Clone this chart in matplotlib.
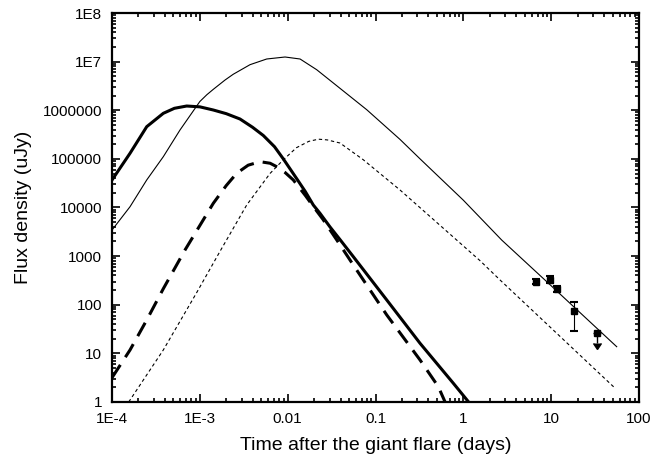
import numpy as np
import matplotlib
matplotlib.use("Agg")
import matplotlib.pyplot as plt
from matplotlib.ticker import LogLocator, NullFormatter

plt.rcParams['font.family'] = ['Liberation Sans', 'DejaVu Sans']

# ---- data (log10 days, log10 uJy) ----
thick_solid_logt = [-4.0, -3.795, -3.605, -3.416, -3.29, -3.15, -3.0, -2.847, -2.7, -2.543,
                    -2.4, -2.277, -2.15, -2.05, -1.9, -1.8, -1.708, -1.632, -1.518, -1.4,
                    -1.253, -0.872, -0.493, -0.114, 0.06]
thick_solid_logf = [4.566, 5.115, 5.662, 5.937, 6.04, 6.087, 6.07, 6.005, 5.93, 5.82,
                    5.65, 5.48, 5.25, 5.0, 4.6, 4.33, 4.05, 3.88, 3.6, 3.33,
                    2.989, 2.098, 1.207, 0.385, 0.0]

thick_dash_logt = [-4.0, -3.795, -3.605, -3.416, -3.169, -2.847, -2.7, -2.581, -2.45, -2.315,
                   -2.2, -2.125, -2.03, -1.936, -1.8, -1.708, -1.6, -1.441, -1.253, -0.872,
                   -0.493, -0.285, -0.208]
thick_dash_logf = [0.5, 1.07, 1.686, 2.33, 3.126, 4.086, 4.45, 4.703, 4.87, 4.942,
                   4.91, 4.839, 4.72, 4.566, 4.25, 4.02, 3.76, 3.332, 2.818, 1.79,
                   0.864, 0.315, 0.0]

thin_solid_logt = [-4.0, -3.795, -3.605, -3.416, -3.226, -3.0, -2.92, -2.847, -2.713, -2.62,
                   -2.429, -2.239, -2.03, -1.859, -1.67, -1.48, -1.10, -0.721, -0.493, 0.0,
                   0.437, 1.0, 1.746]
thin_solid_logf = [3.537, 4.016, 4.566, 5.045, 5.594, 6.18, 6.32, 6.43, 6.622, 6.74,
                   6.937, 7.054, 7.095, 7.054, 6.834, 6.56, 6.011, 5.40, 5.0, 4.15,
                   3.33, 2.39, 1.137]

thin_dot_logt = [-3.81, -3.416, -3.036, -2.77, -2.467, -2.201, -2.05, -1.9, -1.76, -1.65,
                 -1.55, -1.404, -1.14, -0.721, 0.19, 0.418, 1.0, 1.6, 1.73]
thin_dot_logf = [0.0, 1.07, 2.25, 3.1, 4.05, 4.7, 4.98, 5.23, 5.36, 5.405,
                 5.39, 5.326, 4.983, 4.36, 2.906, 2.509, 1.52, 0.50, 0.28]

# observed points (days, uJy)
obs_t = [6.7, 9.8, 11.8, 18.1]
obs_f = [295, 330, 214, 75]
obs_lo = [34, 55, 29, 46]
obs_hi = [36, 60, 33, 41]
lim_t = [33.6]
lim_f = [26.6]
lim_len = [10.6]

xtick_vals = [1e-4, 1e-3, 1e-2, 1e-1, 1, 10, 100]
xtick_labels = ["1E-4", "1E-3", "0.01", "0.1", "1", "10", "100"]
ytick_vals = [1, 10, 100, 1e3, 1e4, 1e5, 1e6, 1e7, 1e8]
ytick_labels = ["1", "10", "100", "1000", "10000", "100000", "1000000", "1E7", "1E8"]

fig = plt.figure(figsize=(6.68, 4.61), dpi=100)
ax = fig.add_axes([0.1677, 0.128, 0.7889, 0.8438])


def p(v):
    return 10 ** np.asarray(v, dtype=float)


ax.plot(p(thick_solid_logt), p(thick_solid_logf), color='black', lw=2.2,
        solid_joinstyle='round')
ax.plot(p(thick_dash_logt), p(thick_dash_logf), color='black', lw=2.2, dashes=(5, 3))
ax.plot(p(thin_solid_logt), p(thin_solid_logf), color='black', lw=0.8,
        solid_joinstyle='round')
ax.plot(p(thin_dot_logt), p(thin_dot_logf), color='black', lw=0.8, dashes=(3, 2.5))

ax.errorbar(obs_t, obs_f, yerr=[obs_lo, obs_hi], fmt='s', color='black', ms=4.5,
            capsize=3, elinewidth=0.8, capthick=1.5)
ax.errorbar(lim_t, lim_f, yerr=[lim_len, [0]], uplims=True, fmt='s', color='black', ms=4,
            elinewidth=1.0, capsize=3)

ax.set_xscale('log')
ax.set_yscale('log')
ax.set_xlim(1e-4, 100)
ax.set_ylim(1, 1e8)

ax.set_xticks(xtick_vals)
ax.set_xticklabels(xtick_labels)
ax.set_yticks(ytick_vals)
ax.set_yticklabels(ytick_labels)
ax.xaxis.set_minor_locator(LogLocator(base=10, subs=np.arange(2, 10), numticks=20))
ax.yaxis.set_minor_locator(LogLocator(base=10, subs=np.arange(2, 10), numticks=20))
ax.xaxis.set_minor_formatter(NullFormatter())
ax.yaxis.set_minor_formatter(NullFormatter())

ax.tick_params(which='both', direction='in', top=True, right=True, width=1.2, color='black')
ax.tick_params(which='major', length=6, labelsize=11, pad=7)
ax.tick_params(which='minor', length=3)
for s in ax.spines.values():
    s.set_linewidth(1.6)

ax.set_xlabel("Time after the giant flare (days)", fontsize=14, labelpad=8)
ax.set_ylabel("Flux density (uJy)", fontsize=14, labelpad=8)

fig.savefig("out.png", dpi=100)
